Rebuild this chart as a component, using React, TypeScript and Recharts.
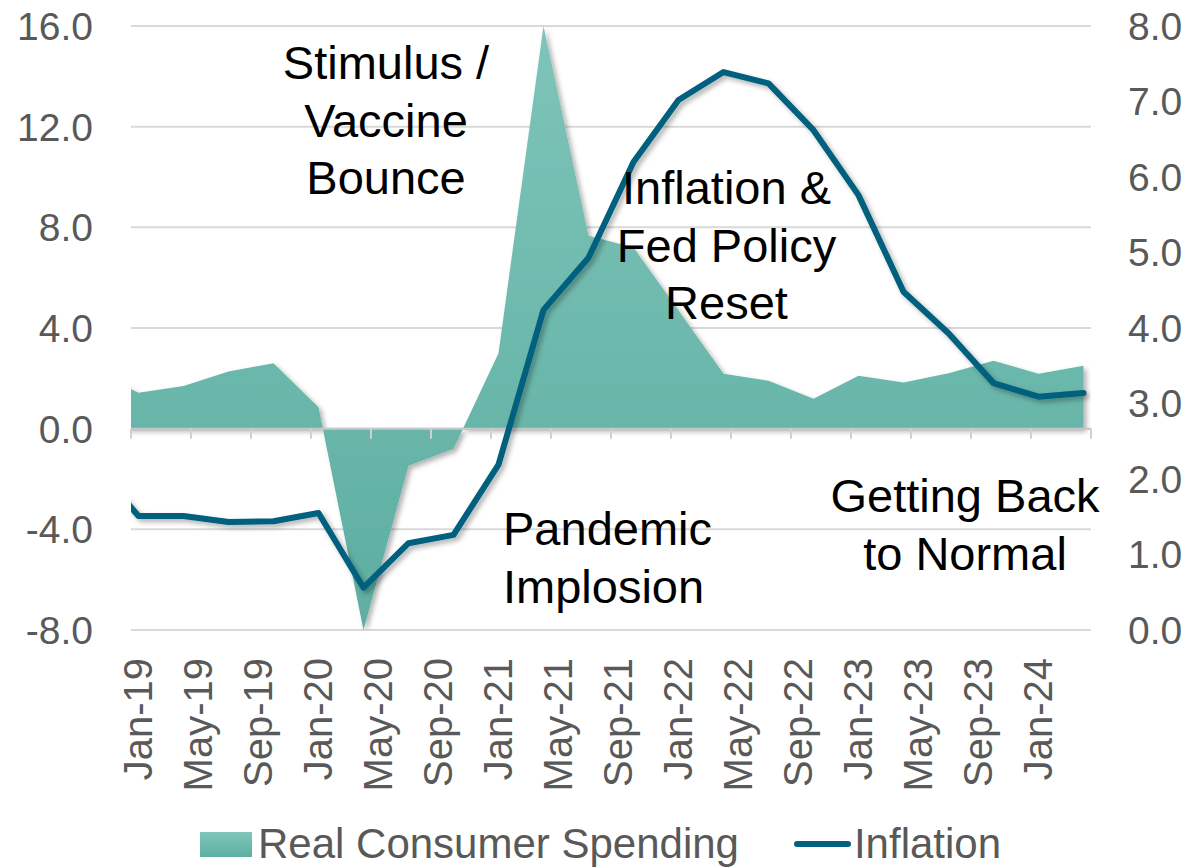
import React from "react";
import {
  ComposedChart,
  Area,
  Line,
  XAxis,
  YAxis,
  CartesianGrid,
  ReferenceLine,
  ReferenceDot,
  Legend,
} from "recharts";

// quarterly observations, Q4-18 .. Q2-24 (Q4-18 sits left of the axis and gets clipped)
const quarters = [
  "Q4-18", "Q1-19", "Q2-19", "Q3-19", "Q4-19", "Q1-20", "Q2-20", "Q3-20", "Q4-20",
  "Q1-21", "Q2-21", "Q3-21", "Q4-21", "Q1-22", "Q2-22", "Q3-22", "Q4-22",
  "Q1-23", "Q2-23", "Q3-23", "Q4-23", "Q1-24", "Q2-24",
];
const spending = [
  2.3, 1.43, 1.7, 2.27, 2.6, 0.85, -8.0, -1.47, -0.8,
  3.0, 16.0, 7.67, 7.2, 4.7, 2.18, 1.9, 1.19,
  2.1, 1.83, 2.2, 2.7, 2.18, 2.5,
];
const inflation = [
  2.2, 1.51, 1.51, 1.43, 1.44, 1.55, 0.56, 1.15, 1.26,
  2.19, 4.24, 4.93, 6.2, 7.02, 7.39, 7.24, 6.62,
  5.76, 4.48, 3.93, 3.27, 3.09, 3.14,
];

// month ticks, every 4 months from Jan-19
const monthTicks = [0, 4, 8, 12, 16, 20, 24, 28, 32, 36, 40, 44, 48, 52, 56, 60, 64];
const monthLabels = [
  "Jan-19", "May-19", "Sep-19", "Jan-20", "May-20", "Sep-20", "Jan-21", "May-21",
  "Sep-21", "Jan-22", "May-22", "Sep-22", "Jan-23", "May-23", "Sep-23", "Jan-24", "",
];
const leftTicks = [-8, -4, 0, 4, 8, 12, 16];
const rightTicks = [0, 1, 2, 3, 4, 5, 6, 7, 8];

const notes = [
  { lines: ["Stimulus /", "Vaccine", "Bounce"], m: 17, v: 14.55, anchor: "middle" },
  { lines: ["Inflation &", "Fed Policy", "Reset"], m: 39.7, v: 9.6, anchor: "middle" },
  { lines: ["Pandemic", "Implosion"], m: 24.8, v: -3.95, anchor: "start" },
  { lines: ["Getting Back", "to Normal"], m: 55.6, v: -2.65, anchor: "middle" },
];

const data = quarters.map((q, i) => ({
  q,
  m: i * 3 - 2.5,
  spending: spending[i],
  inflation: inflation[i],
}));

const FONT = '"Liberation Sans", Arial, sans-serif';
const GREY = "#595959";
const NAVY = "#03607e";

const XTick = (props: any) => {
  const { x, y, payload } = props;
  const idx = monthTicks.indexOf(payload.value);
  return (
    <text
      transform={`translate(${x + 21},${y + 28}) rotate(-90)`}
      textAnchor="end"
      fill={GREY}
      fontSize={40}
      fontFamily={FONT}
    >
      {monthLabels[idx] ?? ""}
    </text>
  );
};

const noteLabel = (lines: string[], anchor: string) => (props: any) => {
  const vb = props.viewBox || {};
  const cx = (vb.x ?? 0) + (vb.width ?? 0) / 2;
  const cy = (vb.y ?? 0) + (vb.height ?? 0) / 2;
  return (
    <text fontSize={47} fontFamily={FONT} fill="#000" textAnchor={anchor}>
      {lines.map((t, i) => (
        <tspan key={i} x={cx} y={cy + 17 + i * 57.5}>
          {t}
        </tspan>
      ))}
    </text>
  );
};

const LegendContent = () => (
  <div
    style={{
      display: "flex",
      alignItems: "center",
      height: 78,
      paddingLeft: 200,
      fontFamily: FONT,
      fontSize: 42,
      lineHeight: "44px",
      color: GREY,
      boxSizing: "border-box",
      paddingTop: 30,
    }}
  >
    <span
      style={{
        display: "inline-block",
        width: 52,
        height: 25,
        background: "linear-gradient(#80c5ba, #5eafa2)",
        marginRight: 6,
      }}
    />
    <span>Real Consumer Spending</span>
    <span
      style={{
        display: "inline-block",
        width: 57,
        height: 6,
        borderRadius: 3,
        background: NAVY,
        marginLeft: 55,
        marginRight: 3,
      }}
    />
    <span>Inflation</span>
  </div>
);

export default function App() {
  return (
    <div style={{ position: "absolute", left: 0, top: 0, width: 1190, height: 868, background: "#fff" }}>
      <svg width={0} height={0} style={{ position: "absolute" }}>
        <defs>
          <linearGradient id="spendFill" x1="0" y1="0" x2="0" y2="1">
            <stop offset="0%" stopColor="#7ec4b9" />
            <stop offset="100%" stopColor="#5daea1" />
          </linearGradient>
          <filter id="soft" x="-5%" y="-5%" width="110%" height="110%">
            <feDropShadow dx="3" dy="3" stdDeviation="2.5" floodColor="#000" floodOpacity="0.3" />
          </filter>
        </defs>
      </svg>
      <ComposedChart
        width={1190}
        height={868}
        data={data}
        margin={{ top: 26, right: 0, bottom: 0, left: 0 }}
      >
        <CartesianGrid yAxisId="left" vertical={false} stroke="#d9d9d9" strokeWidth={2} />
        <XAxis
          dataKey="m"
          type="number"
          domain={[0, 64]}
          ticks={monthTicks}
          allowDataOverflow
          interval={0}
          tick={<XTick />}
          tickLine={false}
          axisLine={false}
          tickSize={0}
          tickMargin={0}
          height={160}
        />
        <YAxis
          yAxisId="left"
          domain={[-8, 16]}
          ticks={leftTicks}
          allowDataOverflow
          tickFormatter={(v: number) => v.toFixed(1)}
          tick={{ fill: GREY, fontSize: 39, fontFamily: FONT }}
          tickLine={false}
          axisLine={false}
          tickSize={0}
          tickMargin={38}
          width={131}
        />
        <YAxis
          yAxisId="right"
          orientation="right"
          domain={[0, 8]}
          ticks={rightTicks}
          allowDataOverflow
          tickFormatter={(v: number) => v.toFixed(1)}
          tick={{ fill: GREY, fontSize: 39, fontFamily: FONT, textAnchor: "start" }}
          tickLine={false}
          axisLine={false}
          tickSize={0}
          tickMargin={37}
          width={99}
        />
        <Legend verticalAlign="bottom" height={78} content={<LegendContent />} />
        <Area
          yAxisId="left"
          type="linear"
          dataKey="spending"
          name="Real Consumer Spending"
          stroke="none"
          fill="url(#spendFill)"
          fillOpacity={1}
          filter="url(#soft)"
          isAnimationActive={false}
        />
        <ReferenceLine yAxisId="left" y={0} stroke="#c8c8c8" strokeWidth={2} />
        {monthTicks.map((m) => (
          <ReferenceLine
            key={m}
            yAxisId="left"
            segment={[
              { x: m, y: 0 },
              { x: m, y: -0.4 },
            ]}
            stroke="#d0d0d0"
            strokeWidth={2}
          />
        ))}
        <Line
          yAxisId="right"
          type="linear"
          dataKey="inflation"
          name="Inflation"
          stroke={NAVY}
          strokeWidth={6}
          strokeLinejoin="round"
          strokeLinecap="round"
          dot={false}
          activeDot={false}
          filter="url(#soft)"
          isAnimationActive={false}
        />
        {notes.map((n, i) => (
          <ReferenceDot
            key={i}
            yAxisId="left"
            x={n.m}
            y={n.v}
            r={0}
            fill="none"
            stroke="none"
            label={noteLabel(n.lines, n.anchor)}
          />
        ))}
      </ComposedChart>
    </div>
  );
}
